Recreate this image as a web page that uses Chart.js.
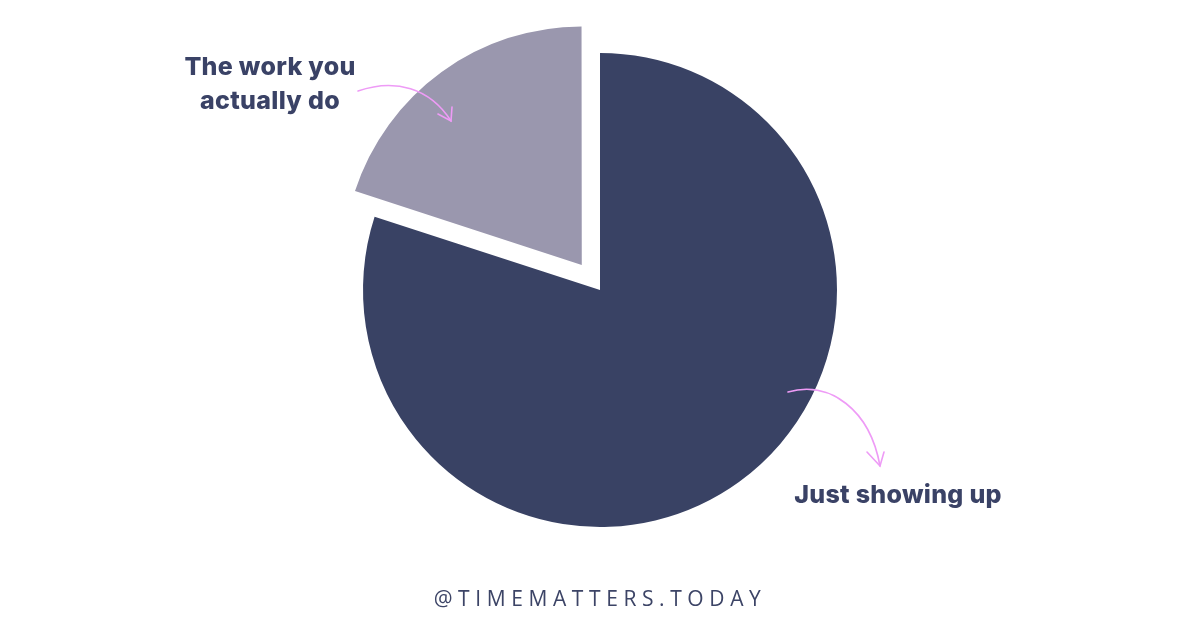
<!DOCTYPE html>
<html>
<head>
<meta charset="utf-8">
<script src="https://cdn.jsdelivr.net/npm/chart.js@4"></script>
<style>
  html, body { margin: 0; padding: 0; background: #fff; }
  .wrap { position: relative; width: 1200px; height: 628px; overflow: hidden; }
  canvas { position: absolute; left: 0; top: 0; }
  .lbl {
    position: absolute;
    font-family: Inter, "Noto Sans", sans-serif;
    font-weight: 800;
    font-size: 25px;
    line-height: 34px;
    color: #3a4266;
    text-align: center;
    letter-spacing: 0.3px;
  }
  .footer {
    position: absolute;
    left: 0; width: 1200px; top: 584px;
    text-align: center;
    font-family: "Open Sans", Lato, sans-serif;
    font-size: 21px;
    letter-spacing: 5.6px;
    color: #3c4466;
  }
  svg { position: absolute; left: 0; top: 0; }
</style>
</head>
<body>
<div class="wrap">
  <canvas id="pie" width="1200" height="628"></canvas>
  <svg width="1200" height="628">
    <g fill="none" stroke="#ee9bf6" stroke-width="1.6" stroke-linecap="round">
      <path d="M358 91 C 395 78, 430 88, 451 121"/>
      <path d="M438 114 L451 121 L452 107"/>
      <path d="M788 392 C 830 380, 870 410, 880 466"/>
      <path d="M867 452 L880 466 L884 452"/>
    </g>
  </svg>
  <div class="lbl" style="left:160px; top:49px; width:220px;">The work you<br>actually do</div>
  <div class="lbl" style="left:770px; top:477px; width:256px;">Just showing up</div>
  <div class="footer">@TIMEMATTERS.TODAY</div>
</div>
<script>
// -------------------- DATA -------------------
let Labels = ['Just showing up', 'The work you actually do'];
let Values = [80, 20];
let Colors = ['#394264', '#9a97ae'];
let Offsets = [0, 124]; // chart.js moves an arc by offset/4

// -------------------- CHART -------------------
let canvas = document.getElementById('pie');

let PieChart = new Chart(canvas, {
  type: 'pie',
  data: {
    labels: Labels,
    datasets: [{
      data: Values,
      backgroundColor: Colors,
      borderWidth: 0,
      offset: Offsets,
      radius: 237
    }]
  },
  options: {
    responsive: false,
    animation: false,
    layout: { padding: { top: 0, bottom: 48, left: 0, right: 0 } },
    plugins: {
      legend: { display: false },
      tooltip: { enabled: false }
    }
  }
});
</script>
</body>
</html>
